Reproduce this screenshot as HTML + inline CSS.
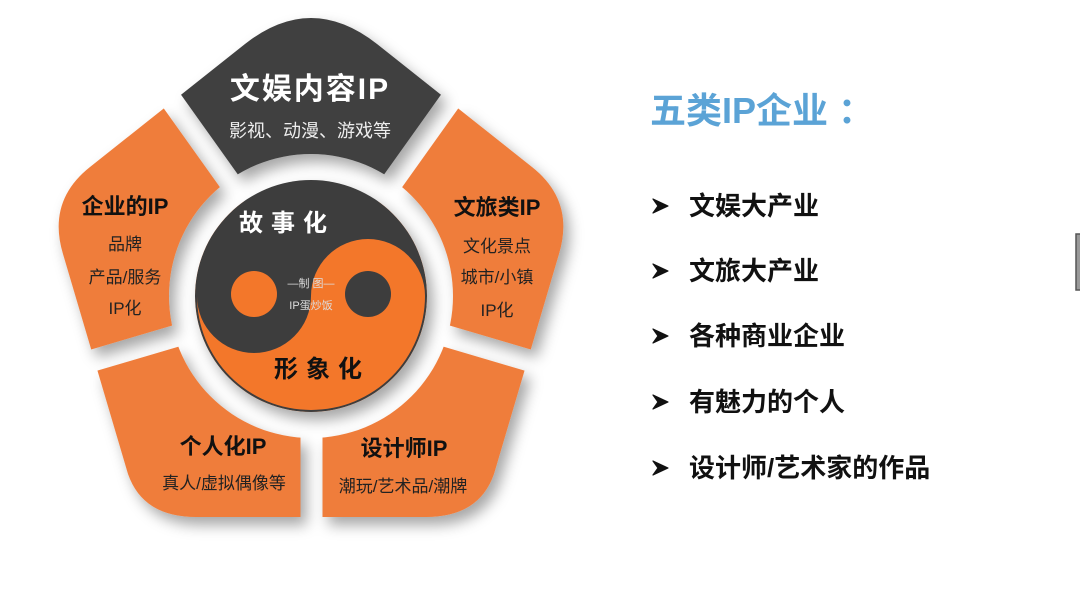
<!DOCTYPE html>
<html><head><meta charset="utf-8">
<style>
html,body{margin:0;padding:0;background:#fff;}
body{width:1080px;height:603px;overflow:hidden;position:relative;font-family:"Liberation Sans","Noto Sans CJK SC",sans-serif;}
svg{position:absolute;left:0;top:0;}
.t{font-family:"Liberation Sans","Noto Sans CJK SC",sans-serif;}
</style></head><body>
<svg width="1080" height="603" viewBox="0 0 1080 603">
<defs>
<mask id="m">
<rect x="0" y="0" width="1080" height="603" fill="#000"/>
<path d="M245,44 Q311,-8 377,44 L532,167 Q575,201 559,254 L494,474 Q479,517 426,517 L196,517 Q143,517 128,474 L63,254 Q47,201 90,167 Z" fill="#fff"/>
<g stroke="#000" stroke-width="22">
<line x1="311" y1="296" x2="100" y2="0"/>
<line x1="311" y1="296" x2="522" y2="0"/>
<line x1="311" y1="296" x2="20" y2="382"/>
<line x1="311" y1="296" x2="602" y2="382"/>
<line x1="311.5" y1="296" x2="311.5" y2="560"/>
</g>
<circle cx="311" cy="296" r="142" fill="#000"/>
<circle cx="311" cy="296" r="116" fill="#fff"/>
</mask>
<clipPath id="topc"><polygon points="311,296 100,0 522,0"/></clipPath>
<filter id="sh" x="-20%" y="-20%" width="140%" height="140%">
<feDropShadow dx="6" dy="8" stdDeviation="7" flood-color="#000" flood-opacity="0.35"/>
</filter>
</defs>
<g filter="url(#sh)">
<g mask="url(#m)">
<rect x="0" y="0" width="640" height="603" fill="#ef7d3b"/>
<rect x="0" y="0" width="640" height="603" fill="#3f3f3f" clip-path="url(#topc)"/>
<circle cx="311" cy="296" r="116" fill="#3d3d3d"/>
<path d="M425,296 A114,114 0 0 1 197,296 A57,57 0 0 0 311,296 A57,57 0 0 1 425,296 Z" fill="#f3772c"/>
<circle cx="254" cy="294" r="23" fill="#f3772c"/>
<circle cx="368" cy="294" r="23" fill="#3d3d3d"/>
</g>
</g>
<g class="t" text-anchor="middle">
<text x="310" y="99" font-size="30" font-weight="bold" fill="#fff" letter-spacing="2">文娱内容IP</text>
<text x="310" y="137" font-size="18" fill="#eee">影视、动漫、游戏等</text>
<text x="125" y="214" font-size="22" font-weight="bold" fill="#111">企业的IP</text>
<text x="125" y="250" font-size="17" fill="#222">品牌</text>
<text x="125" y="283" font-size="17" fill="#222">产品/服务</text>
<text x="125" y="314" font-size="17" fill="#222">IP化</text>
<text x="497" y="215" font-size="22" font-weight="bold" fill="#111">文旅类IP</text>
<text x="497" y="252" font-size="17" fill="#222">文化景点</text>
<text x="497" y="283" font-size="17" fill="#222">城市/小镇</text>
<text x="497" y="316" font-size="17" fill="#222">IP化</text>
<text x="223" y="454" font-size="22" font-weight="bold" fill="#111">个人化IP</text>
<text x="224" y="489" font-size="17" fill="#222">真人/虚拟偶像等</text>
<text x="404" y="456" font-size="22" font-weight="bold" fill="#111">设计师IP</text>
<text x="403" y="492" font-size="17" fill="#222">潮玩/艺术品/潮牌</text>
<text x="287" y="231" font-size="24" font-weight="bold" fill="#fff" letter-spacing="8">故事化</text>
<text x="322" y="377" font-size="24" font-weight="bold" fill="#111" letter-spacing="8">形象化</text>
<text x="311" y="287" font-size="11" fill="#ddd">—制 图—</text>
<text x="311" y="309" font-size="11" fill="#ddd">IP蛋炒饭</text>
</g>
<g class="t">
<text x="650" y="123" font-size="36" font-weight="bold" fill="#5ba3d6">五类IP企业 ：</text>
<g fill="#111" stroke="#111" stroke-width="1.2" stroke-linejoin="round">
<polygon points="653,199 668,206 653,213 658,206"/>
<polygon points="653,264 668,271 653,278 658,271"/>
<polygon points="653,329 668,336 653,343 658,336"/>
<polygon points="653,395 668,402 653,409 658,402"/>
<polygon points="653,461 668,468 653,475 658,468"/>
</g>
<g font-size="26" font-weight="bold" fill="#111">
<text x="689" y="215">文娱大产业</text>
<text x="689" y="280">文旅大产业</text>
<text x="689" y="345">各种商业企业</text>
<text x="689" y="411">有魅力的个人</text>
<text x="689" y="477">设计师/艺术家的作品</text>
</g>
</g>
<rect x="1076" y="234" width="6" height="56" fill="#999" stroke="#555" stroke-width="1.5"/>
</svg>
</body></html>
